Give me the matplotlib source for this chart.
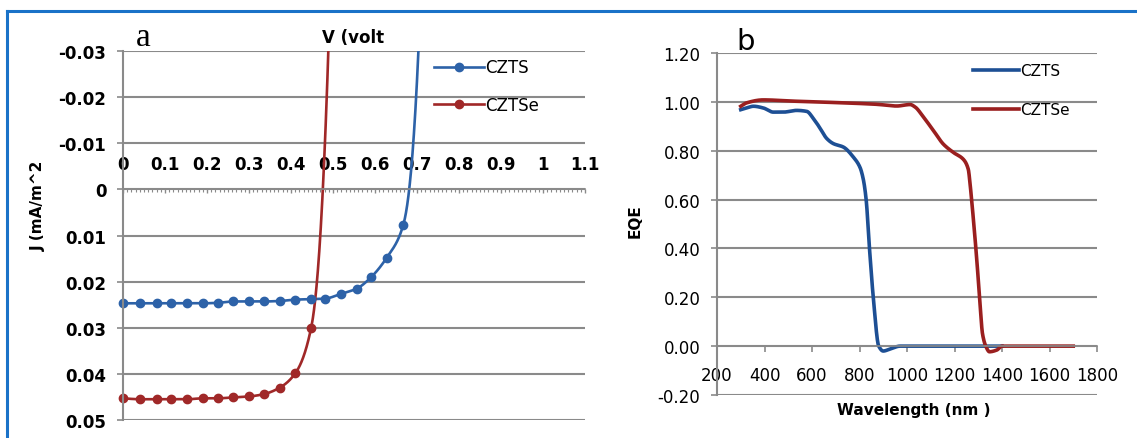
import numpy as np
import matplotlib
matplotlib.use("Agg")
import matplotlib.pyplot as plt
from matplotlib.lines import Line2D
from matplotlib.ticker import MultipleLocator

plt.rcParams['axes.unicode_minus'] = False
plt.rcParams['font.family'] = ['DejaVu Sans']

# ---------------- data: panel a (J-V) ----------------
v_czts = [0.0, 0.04, 0.08, 0.115, 0.153, 0.19, 0.225, 0.263, 0.30, 0.335, 0.373,
          0.41, 0.448, 0.48, 0.518, 0.557, 0.59, 0.628, 0.667, 0.708, 0.725]
j_czts = [0.0247, 0.0247, 0.0247, 0.0247, 0.0247, 0.0247, 0.0246, 0.0243, 0.0243,
          0.0243, 0.0242, 0.0239, 0.0238, 0.0237, 0.0227, 0.0215, 0.0191, 0.0148,
          0.0078, -0.040, -0.200]
v_cztse = [0.0, 0.04, 0.08, 0.115, 0.153, 0.19, 0.225, 0.263, 0.30, 0.335, 0.373,
           0.41, 0.448, 0.494, 0.51]
j_cztse = [0.0453, 0.0455, 0.0455, 0.0455, 0.0455, 0.0453, 0.0453, 0.0451, 0.0449,
           0.0444, 0.0430, 0.0399, 0.0300, -0.045, -0.200]
a_xticks = [0, 0.1, 0.2, 0.3, 0.4, 0.5, 0.6, 0.7, 0.8, 0.9, 1.0, 1.1]
a_xticklabels = ['0', '0.1', '0.2', '0.3', '0.4', '0.5', '0.6', '0.7', '0.8', '0.9', '1', '1.1']
a_yticks = [-0.03, -0.02, -0.01, 0, 0.01, 0.02, 0.03, 0.04, 0.05]
a_yticklabels = ['-0.03', '-0.02', '-0.01', '0', '0.01', '0.02', '0.03', '0.04', '0.05']

# ---------------- data: panel b (EQE) ----------------
wl_czts = [300, 325, 353, 395, 437, 479, 535, 578, 605, 634, 662, 690, 732, 774, 802,
           816, 828, 842, 858, 881, 900, 928, 971, 1050, 1200, 1400]
eqe_czts = [0.968, 0.975, 0.982, 0.975, 0.958, 0.958, 0.965, 0.961, 0.933, 0.892, 0.85,
            0.829, 0.815, 0.774, 0.732, 0.683, 0.60, 0.40, 0.20, 0.0, -0.02, -0.012,
            0.0, 0.0, 0.0, 0.0]
wl_cztse = [300, 325, 395, 520, 731, 872, 957, 1013, 1034, 1069, 1111, 1153, 1195, 1237,
            1258, 1266, 1272, 1290, 1305, 1318, 1333, 1347, 1378, 1400, 1550, 1700]
eqe_cztse = [0.982, 0.996, 1.008, 1.003, 0.996, 0.99, 0.983, 0.989, 0.979, 0.938, 0.883,
             0.827, 0.793, 0.765, 0.724, 0.66, 0.60, 0.40, 0.21, 0.05, -0.003, -0.023,
             -0.016, 0.0, 0.0, 0.0]
b_xticks = [200, 400, 600, 800, 1000, 1200, 1400, 1600, 1800]
b_yticks = [-0.2, 0.0, 0.2, 0.4, 0.6, 0.8, 1.0, 1.2]
b_yticklabels = ['-0.20', '0.00', '0.20', '0.40', '0.60', '0.80', '1.00', '1.20']

BLUE_A = '#2d62a8'
RED_A = '#a02828'
BLUE_B = '#1d4f94'
RED_B = '#9a1f1f'
GRID = '#8a8a8a'


def smooth(x, y, n=3000):
    """Monotone (PCHIP) smoothed line through the data points."""
    x = np.asarray(x, float)
    y = np.asarray(y, float)
    h = np.diff(x)
    dl = np.diff(y) / h
    d = np.zeros_like(y)
    for k in range(1, len(x) - 1):
        if dl[k - 1] * dl[k] > 0:
            w1 = 2 * h[k] + h[k - 1]
            w2 = h[k] + 2 * h[k - 1]
            d[k] = (w1 + w2) / (w1 / dl[k - 1] + w2 / dl[k])
    d[0] = dl[0]
    d[-1] = dl[-1]
    xs = np.linspace(x[0], x[-1], n)
    idx = np.clip(np.searchsorted(x, xs, side='right') - 1, 0, len(x) - 2)
    hh = h[idx]
    t = (xs - x[idx]) / hh
    h00 = 2 * t ** 3 - 3 * t ** 2 + 1
    h10 = t ** 3 - 2 * t ** 2 + t
    h01 = -2 * t ** 3 + 3 * t ** 2
    h11 = t ** 3 - t ** 2
    ys = h00 * y[idx] + h10 * hh * d[idx] + h01 * y[idx + 1] + h11 * hh * d[idx + 1]
    return xs, ys


fig = plt.figure(figsize=(11.37, 4.39), dpi=100)

# ---------------- panel a ----------------
axa = fig.add_axes([123 / 1137, 1 - 421 / 439, 462 / 1137, 369 / 439])
axa.set_xlim(0, 1.1)
axa.set_ylim(0.05, -0.03)
axa.set_yticks(a_yticks)
axa.set_yticklabels(a_yticklabels, fontsize=12, fontweight='bold')
axa.yaxis.grid(True, color=GRID, linewidth=1.5)
axa.set_axisbelow(True)
for s in ['top', 'right']:
    axa.spines[s].set_visible(False)
axa.spines['left'].set_color(GRID)
axa.spines['left'].set_linewidth(1.5)
axa.spines['bottom'].set_position(('data', 0))
axa.spines['bottom'].set_color(GRID)
axa.spines['bottom'].set_linewidth(1.2)
axa.set_xticks(a_xticks)
axa.set_xticklabels(a_xticklabels, fontsize=12, fontweight='bold')
axa.xaxis.set_minor_locator(MultipleLocator(0.01))
axa.tick_params(axis='y', length=4, width=1.2, color=GRID, pad=8)
axa.tick_params(axis='x', which='major', length=3, width=1, color=GRID, pad=-28)
axa.tick_params(axis='x', which='minor', length=2.5, width=0.8, color=GRID)

sx, sy = smooth(v_czts, j_czts)
axa.plot(sx, sy, color=BLUE_A, lw=1.9)
sx, sy = smooth(v_cztse, j_cztse)
axa.plot(sx, sy, color=RED_A, lw=1.9)
vb = np.array(v_czts); jb = np.array(j_czts)
m = (jb <= 0.05) & (jb >= -0.03)
axa.plot(vb[m], jb[m], 'o', color=BLUE_A, ms=6, clip_on=False)
vr = np.array(v_cztse); jr = np.array(j_cztse)
m = (jr <= 0.05) & (jr >= -0.03)
axa.plot(vr[m], jr[m], 'o', color=RED_A, ms=6, clip_on=False)

ha = [Line2D([], [], color=BLUE_A, lw=1.9, marker='o', ms=6),
      Line2D([], [], color=RED_A, lw=1.9, marker='o', ms=6)]
axa.legend(ha, ['CZTS', 'CZTSe'], loc='upper left', bbox_to_anchor=(0.665, 0.989),
           frameon=False, fontsize=12, handlelength=3.0, handletextpad=0.1,
           labelspacing=1.15, borderpad=0.2, borderaxespad=0)

axa.set_xlabel('V (volt', fontsize=12, fontweight='bold')
axa.xaxis.set_label_coords(0.498, 1.038)
axa.xaxis.label.set_va('center')
axa.set_ylabel('J (mA/m^2', fontsize=11, fontweight='bold')
axa.yaxis.set_label_coords(-0.184, 0.583)
axa.yaxis.label.set_va('center')

# ---------------- panel b ----------------
axb = fig.add_axes([717 / 1137, 1 - 396 / 439, 380 / 1137, 342 / 439])
axb.set_xlim(200, 1800)
axb.set_ylim(-0.2, 1.2)
axb.set_yticks(b_yticks)
axb.set_yticklabels(b_yticklabels, fontsize=12)
axb.yaxis.grid(True, color=GRID, linewidth=1.5)
axb.set_axisbelow(True)
for s in ['top', 'right']:
    axb.spines[s].set_visible(False)
axb.spines['left'].set_color(GRID)
axb.spines['left'].set_linewidth(1.5)
axb.spines['bottom'].set_position(('data', 0))
axb.spines['bottom'].set_color(GRID)
axb.spines['bottom'].set_linewidth(1.2)
axb.set_xticks(b_xticks)
axb.set_xticklabels([str(v) for v in b_xticks], fontsize=12)
axb.tick_params(axis='y', length=4, width=1.2, color=GRID, pad=8)
axb.tick_params(axis='x', length=4, width=1.2, color=GRID, pad=10)

sx, sy = smooth(wl_czts, eqe_czts)
axb.plot(sx, sy, color=BLUE_B, lw=2.6)
sx, sy = smooth(wl_cztse, eqe_cztse)
axb.plot(sx, sy, color=RED_B, lw=2.6)

hb = [Line2D([], [], color=BLUE_B, lw=2.6), Line2D([], [], color=RED_B, lw=2.6)]
axb.legend(hb, ['CZTS', 'CZTSe'], loc='upper left', bbox_to_anchor=(0.665, 0.98),
           frameon=False, fontsize=11, handlelength=3.0, handletextpad=0.1,
           labelspacing=1.6, borderpad=0.2, borderaxespad=0)

axb.set_xlabel('Wavelength (nm )', fontsize=11, fontweight='bold')
axb.xaxis.set_label_coords(0.518, -0.041)
axb.xaxis.label.set_va('center')
axb.set_ylabel('EQE', fontsize=11, fontweight='bold')
axb.yaxis.set_label_coords(-0.216, 0.512)
axb.yaxis.label.set_va('center')

# panel letters
fig.text(143 / 1137, 1 - 38 / 439, 'a', fontsize=24, family='Liberation Serif',
         ha='center', va='center')
fig.text(746 / 1137, 1 - 42 / 439, 'b', fontsize=21, family='DejaVu Sans',
         ha='center', va='center')

# blue frame
fig.add_artist(Line2D([7 / 1137, 1.0], [1 - 12 / 439, 1 - 12 / 439],
                      color='#1a72c8', lw=2.2, transform=fig.transFigure))
fig.add_artist(Line2D([7 / 1137, 7 / 1137], [0, 1 - 12 / 439],
                      color='#1a72c8', lw=2.2, transform=fig.transFigure))

fig.savefig('out.png', dpi=100)
